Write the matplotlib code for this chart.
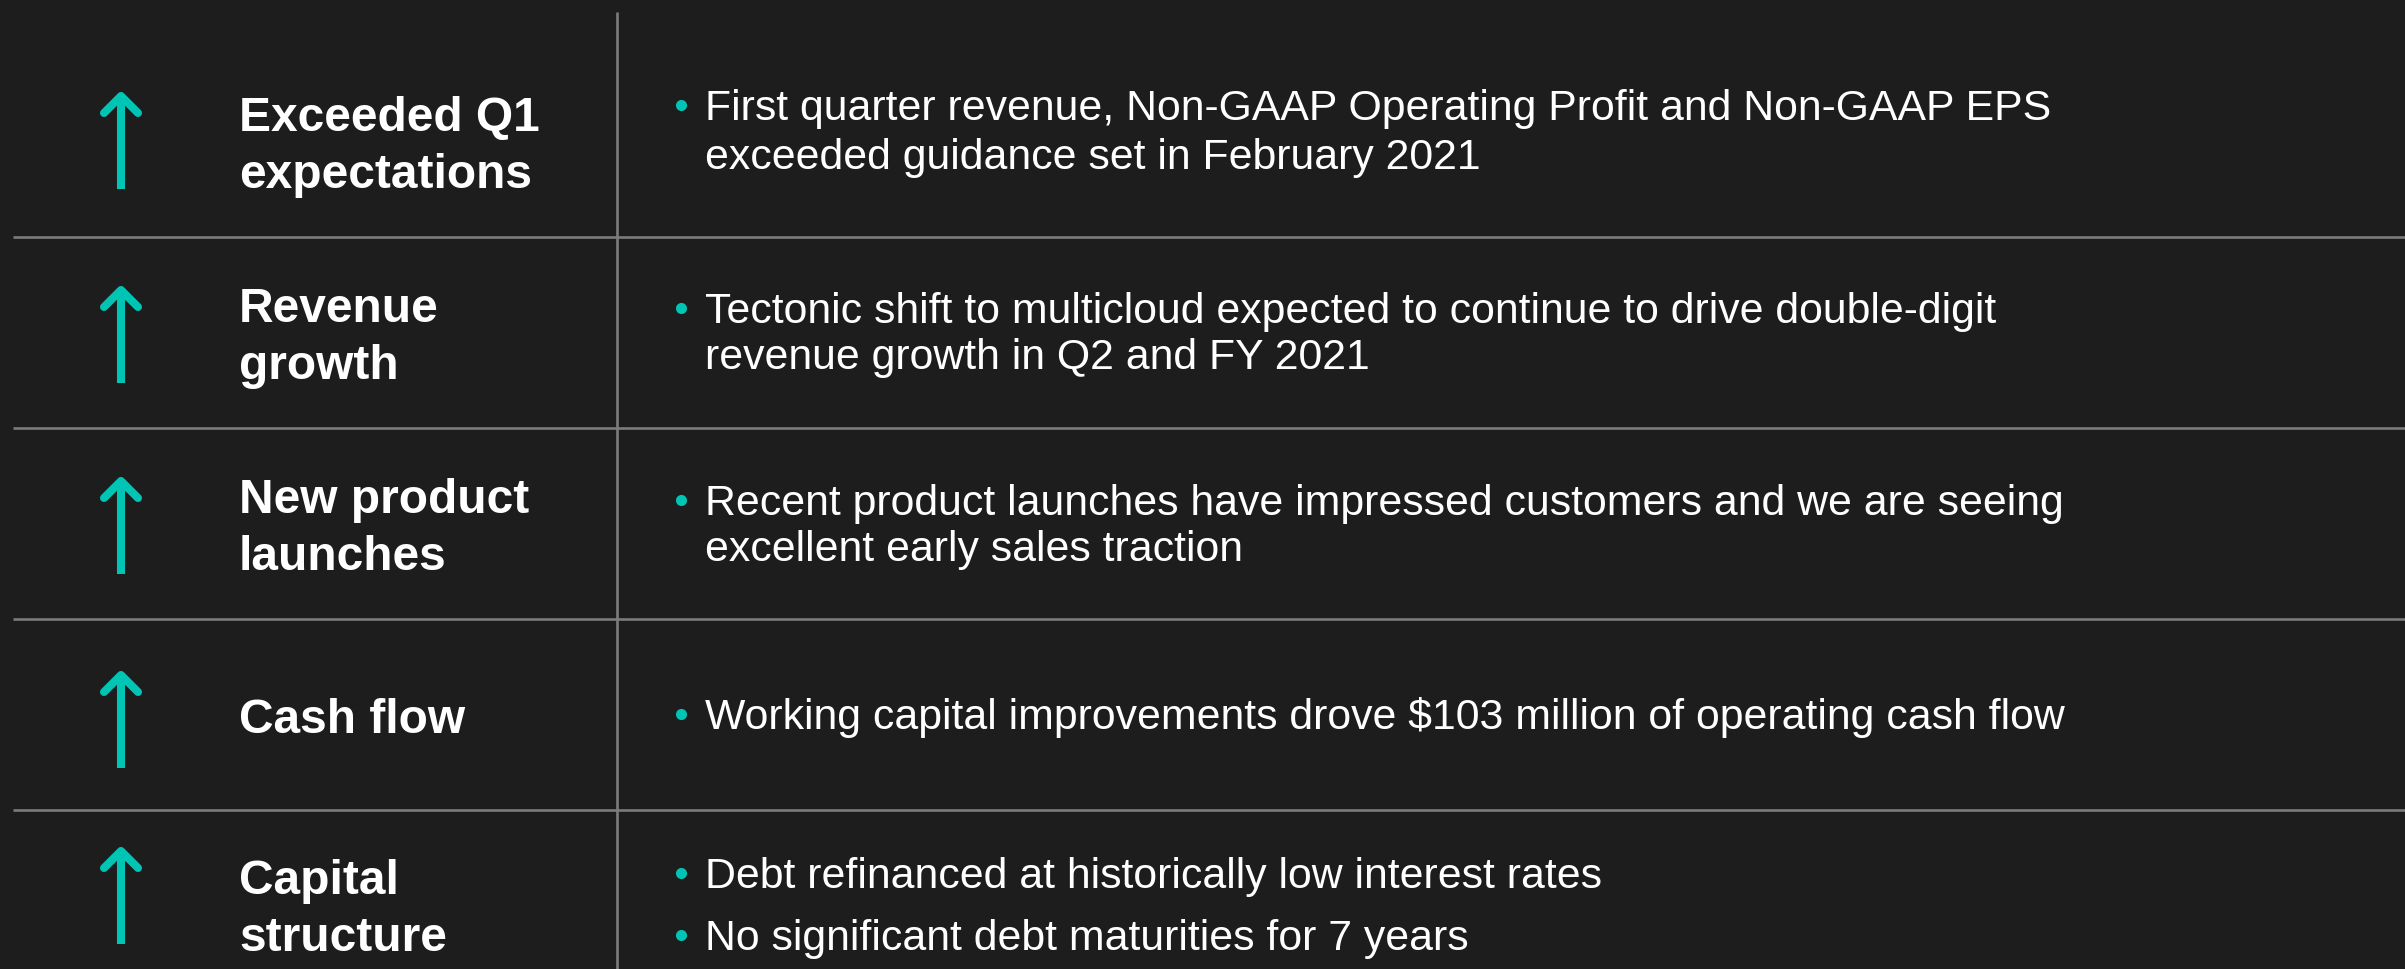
import matplotlib
matplotlib.use("Agg")
import matplotlib.pyplot as plt

# ---- content ----
headers = [
    ["Exceeded Q1", "expectations"],
    ["Revenue", "growth"],
    ["New product", "launches"],
    ["Cash flow"],
    ["Capital", "structure"],
]
bullets = [
    [["First quarter revenue, Non-GAAP Operating Profit and Non-GAAP EPS",
      "exceeded guidance set in February 2021"]],
    [["Tectonic shift to multicloud expected to continue to drive double-digit",
      "revenue growth in Q2 and FY 2021"]],
    [["Recent product launches have impressed customers and we are seeing",
      "excellent early sales traction"]],
    [["Working capital improvements drove $103 million of operating cash flow"]],
    [["Debt refinanced at historically low interest rates"],
     ["No significant debt maturities for 7 years"]],
]

# ---- layout (pixel coordinates, y downwards) ----
W, H = 2405, 969
BG = "#1d1d1d"
TEAL = "#00c4b4"
GRID = "#7c7c7c"
FONT = ["Liberation Sans", "DejaVu Sans"]

header_baselines = [[131, 188], [322, 379], [513, 570], [733], [894, 951]]
body_baselines = [[[120, 169]], [[323, 369]], [[515, 561]], [[729]], [[888], [950]]]
arrow_tips = [95, 289, 480, 674, 850]
arrow_len = 94
hlines_y = [237, 428, 619, 810]

fig = plt.figure(figsize=(W / 100, H / 100), dpi=100, facecolor=BG)
ax = fig.add_axes([0, 0, 1, 1])
ax.set_facecolor(BG)
ax.set_xlim(0, W)
ax.set_ylim(H, 0)
ax.axis("off")

# grid lines
for y in hlines_y:
    ax.plot([13, W], [y, y], color=GRID, lw=1.9, solid_capstyle="butt")
ax.plot([617, 617], [12, H], color=GRID, lw=1.9, solid_capstyle="butt")

# arrows
ax_x = 121
for tip in arrow_tips:
    ax.plot([ax_x, ax_x], [tip + 4, tip + arrow_len], color=TEAL, lw=5.8,
            solid_capstyle="butt")
    ax.plot([ax_x - 17, ax_x, ax_x + 17], [tip + 18, tip + 1, tip + 18],
            color=TEAL, lw=5.8, solid_capstyle="round", solid_joinstyle="round")

# headers
for lines, bls in zip(headers, header_baselines):
    for txt, b in zip(lines, bls):
        ax.text(239, b, txt, color="white", fontsize=34.5, fontweight="bold",
                family=FONT, va="baseline", ha="left")

# bullet texts
for paras, pbls in zip(bullets, body_baselines):
    for para, bls in zip(paras, pbls):
        ax.plot([681], [bls[0] - 15.5], marker="o", ms=8, color=TEAL, mew=0)
        for txt, b in zip(para, bls):
            ax.text(705, b, txt, color="white", fontsize=30.8,
                    family=FONT, va="baseline", ha="left")

fig.savefig("out.png", dpi=100, facecolor=BG)
